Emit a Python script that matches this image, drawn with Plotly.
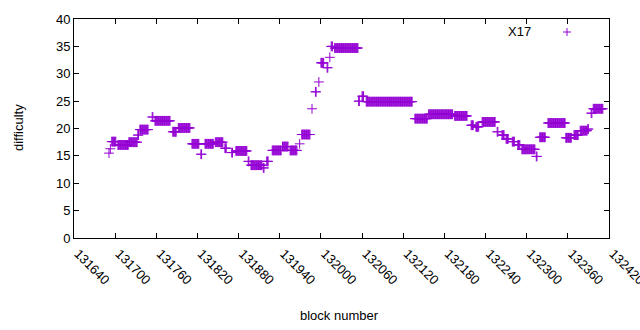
import numpy as np
import plotly.graph_objects as go

# Runs of consecutive blocks with constant difficulty (start block, end block, value)
run_start = [131691, 131693, 131695, 131704, 131720, 131733, 131736, 131754, 131758, 131784,
             131792, 131812, 131825, 131831, 131846, 131860, 131870, 131876, 131894, 131898,
             131916, 131921, 131929, 131944, 131955, 131969, 131972, 131987, 131992, 131997,
             132000, 132009, 132013, 132015, 132020, 132055, 132060, 132066, 132137, 132157,
             132195, 132219, 132226, 132235, 132257, 132264, 132270, 132279, 132287, 132293,
             132314, 132319, 132331, 132357, 132369, 132378, 132389, 132394, 132397]
run_end = [131691, 131693, 131701, 131719, 131732, 131734, 131748, 131755, 131780, 131789,
           131809, 131822, 131826, 131843, 131857, 131862, 131871, 131892, 131895, 131914,
           131917, 131923, 131942, 131952, 131965, 131969, 131984, 131987, 131993, 131997,
           132004, 132010, 132013, 132017, 132054, 132056, 132062, 132133, 132155, 132192,
           132213, 132222, 132230, 132254, 132258, 132267, 132273, 132282, 132290, 132312,
           132315, 132327, 132356, 132365, 132375, 132388, 132390, 132395, 132411]
run_value = [15.5, 16.3, 17.6, 17.0, 17.5, 18.8, 19.8, 22.1, 21.4, 19.4,
             20.1, 17.2, 15.3, 17.2, 17.5, 16.4, 15.6, 15.9, 14.0, 13.3,
             12.8, 14.0, 16.0, 16.7, 16.0, 17.2, 18.9, 23.6, 26.7, 28.5,
             32.0, 31.1, 33.0, 35.0, 34.7, 25.0, 25.9, 24.9, 21.8, 22.6,
             22.3, 20.6, 20.3, 21.2, 19.4, 18.8, 18.1, 17.6, 17.0, 16.2,
             14.9, 18.4, 21.0, 18.3, 18.8, 19.6, 19.9, 22.8, 23.6]

x_ticks = [131640, 131700, 131760, 131820, 131880, 131940, 132000, 132060,
           132120, 132180, 132240, 132300, 132360, 132420]
y_ticks = [0, 5, 10, 15, 20, 25, 30, 35, 40]

blocks, diffs = [], []
for s, e, v in zip(run_start, run_end, run_value):
    for b in range(s, e + 1):
        blocks.append(b)
        diffs.append(v)

color = "#9400d3"
font = dict(family="Liberation Sans, Arial, sans-serif", size=13, color="black")

fig = go.Figure()
fig.add_trace(go.Scatter(
    x=blocks, y=diffs, mode="markers", name="X17", showlegend=False,
    marker=dict(symbol="cross-thin", size=7, line=dict(color=color, width=1), color=color),
))

L, R, T, B = 74, 609, 19, 238
W, H = R - L, B - T

def px(x):
    return (x - L) / W

def py(y):
    return (B - y) / H

fig.add_annotation(text="X17", x=px(533), y=py(31), xref="paper", yref="paper",
                   xanchor="right", yanchor="middle", showarrow=False, font=font)
cx, cy = 567, 32
fig.add_shape(type="line", xref="paper", yref="paper", x0=px(cx - 4), x1=px(cx + 4),
              y0=py(cy), y1=py(cy), line=dict(color=color, width=1))
fig.add_shape(type="line", xref="paper", yref="paper", x0=px(cx), x1=px(cx),
              y0=py(cy - 4), y1=py(cy + 4), line=dict(color=color, width=1))

fig.add_annotation(text="difficulty", x=px(18), y=py(128), xref="paper", yref="paper",
                   textangle=-90, showarrow=False, font=font, xanchor="center", yanchor="middle")
fig.add_annotation(text="block number", x=px(339), y=py(315), xref="paper", yref="paper",
                   showarrow=False, font=font, xanchor="center", yanchor="middle")

axis_common = dict(showline=True, linecolor="black", linewidth=1, mirror="allticks",
                   ticks="inside", ticklen=5, tickcolor="black", showgrid=False,
                   zeroline=False, tickfont=font)
fig.update_xaxes(range=[131640, 132420], tickvals=x_ticks, ticktext=[str(t) for t in x_ticks],
                 tickangle=45, ticklabelshift=4, ticklabelstandoff=2,
                 ticklabeloverflow="allow", **axis_common)
fig.update_yaxes(range=[0, 40], tickvals=y_ticks, **axis_common)

fig.update_layout(
    width=640, height=330,
    margin=dict(l=L, r=640 - R, t=T, b=330 - B, autoexpand=False),
    paper_bgcolor="white", plot_bgcolor="white",
    showlegend=False, font=font,
)

fig.write_html("out.html", config={"displayModeBar": False},
               post_script="document.body.style.margin='0';")
